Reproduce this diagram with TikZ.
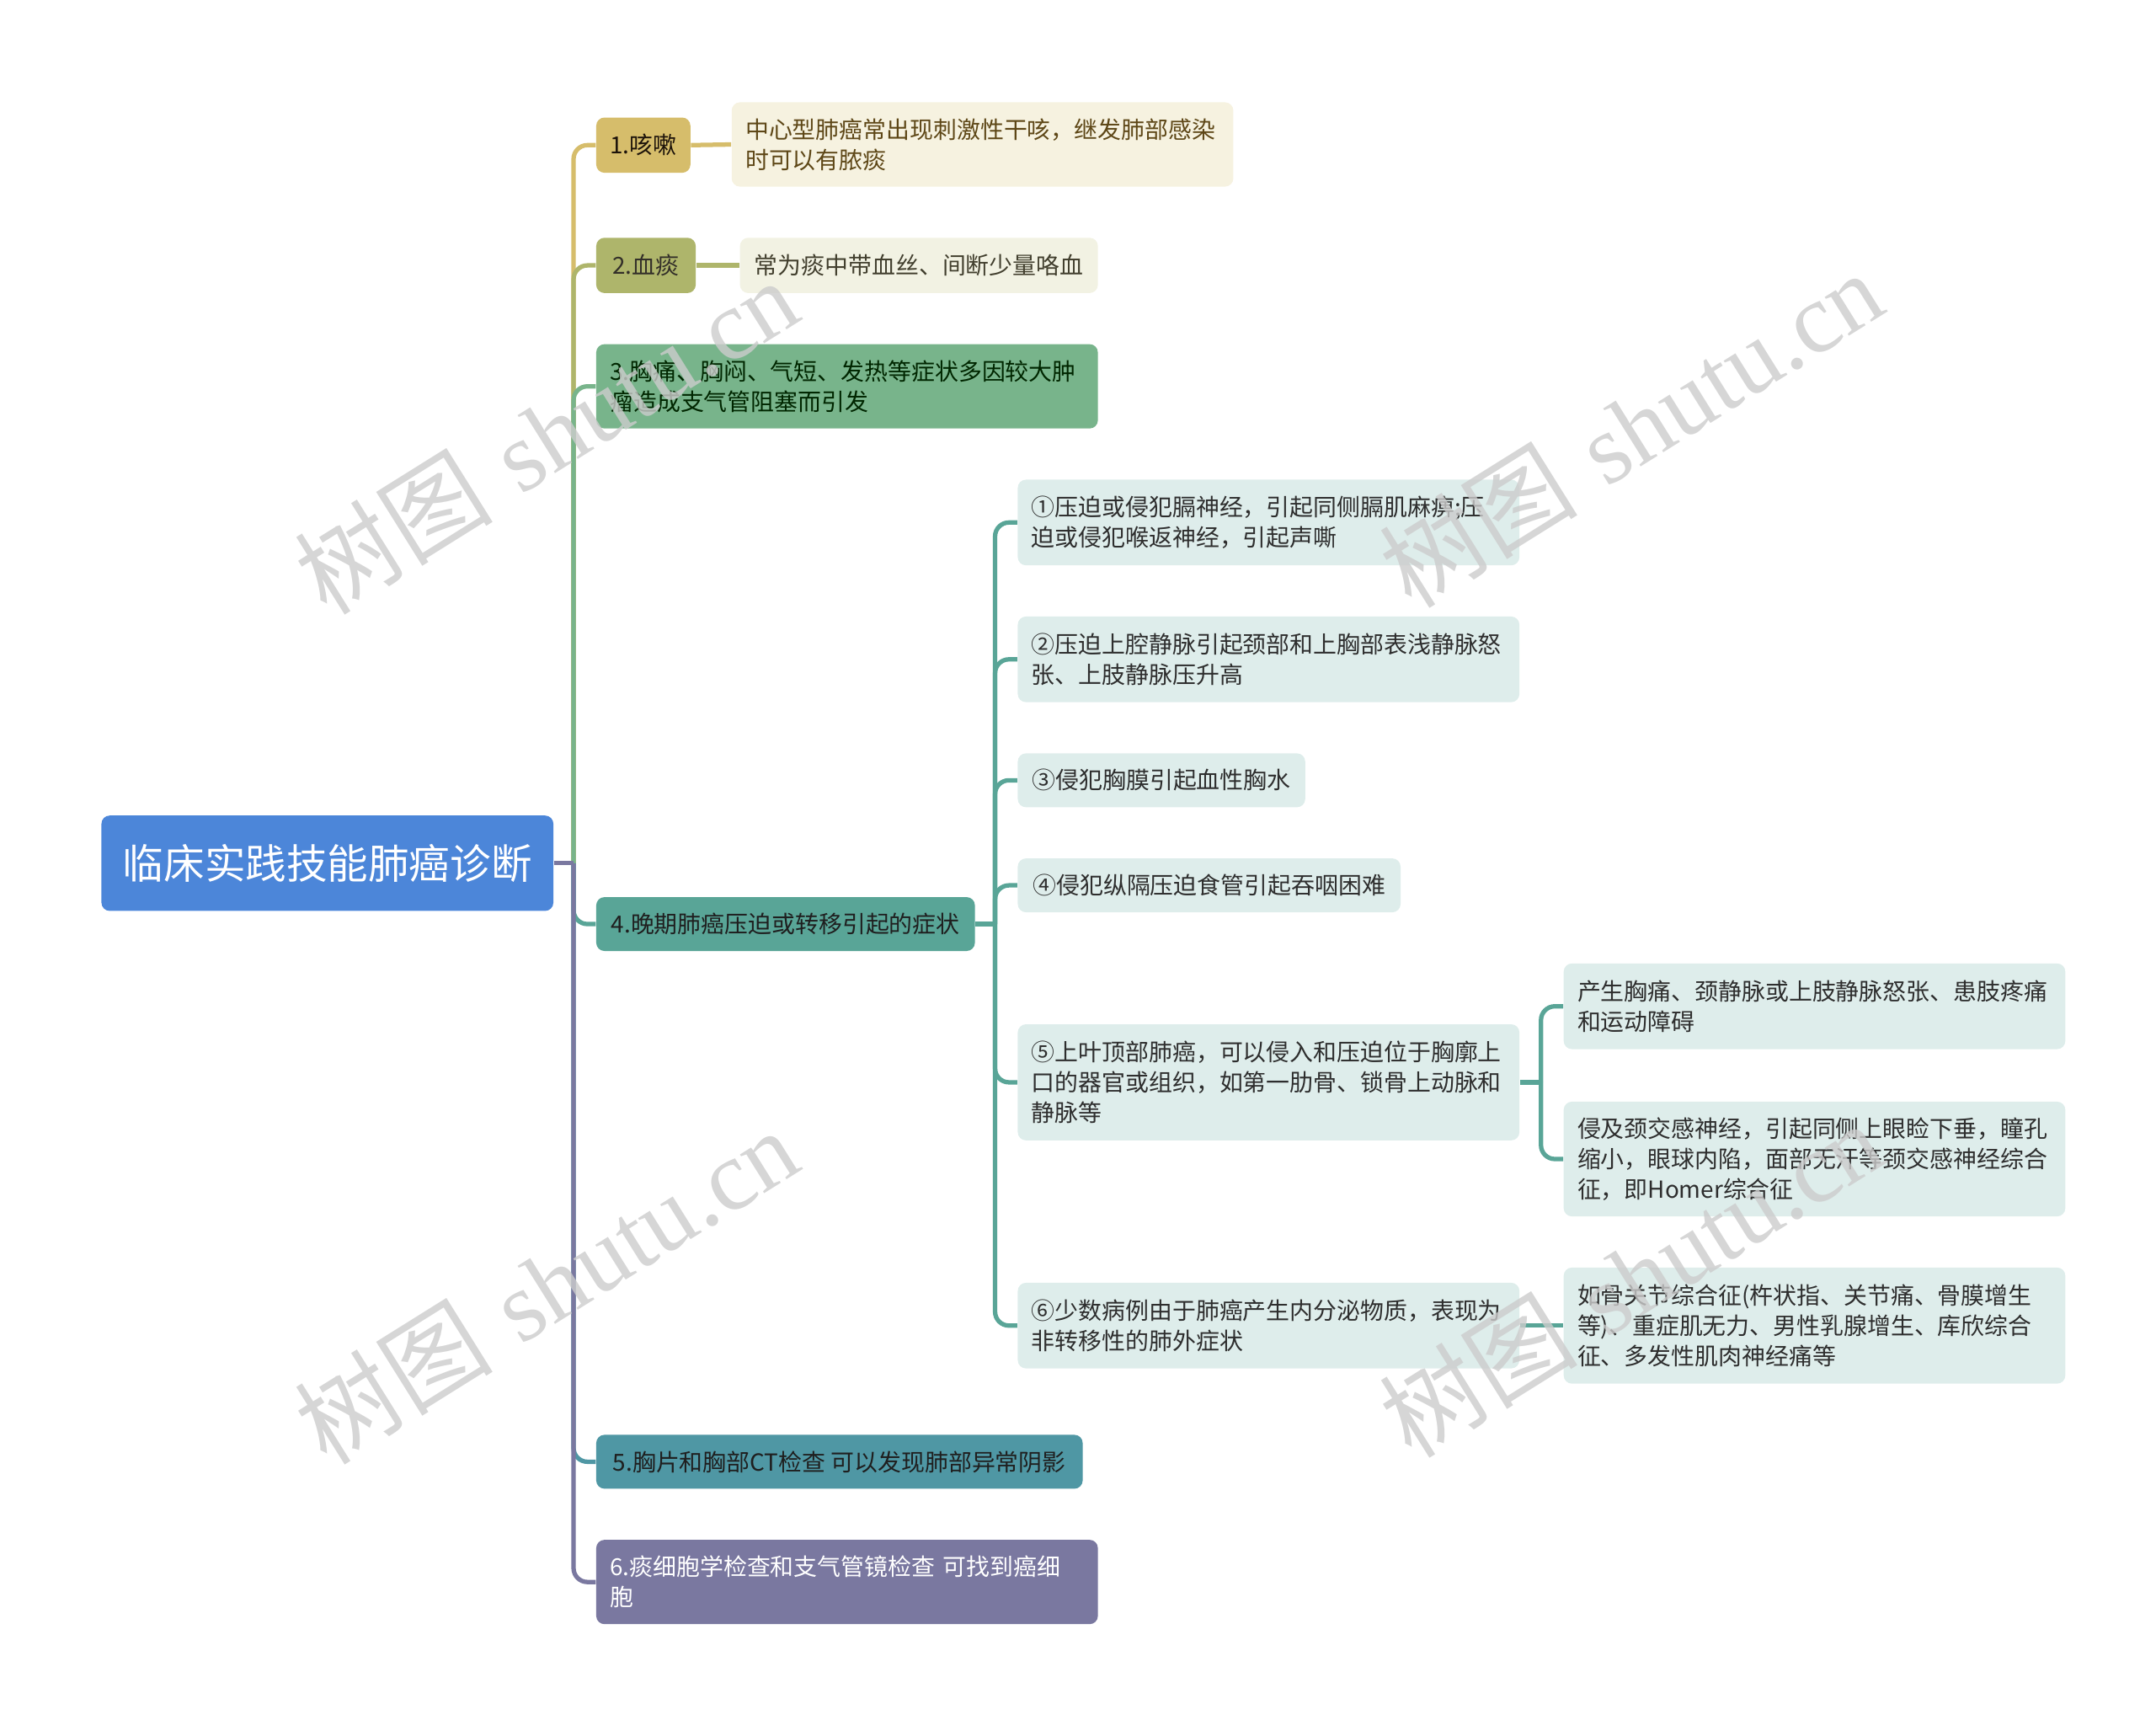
\documentclass[tikz,border=0pt]{standalone}
\usepackage{fontspec}
\newfontfamily\cjk{Noto Sans CJK SC}
\newfontfamily\wmserif{Liberation Serif}
\usepackage{xcolor}
\usepackage{tikz}
\definecolor{rootblue}{HTML}{4C86D9}
\definecolor{cougha}{HTML}{D6BD6B}
\definecolor{bloodb}{HTML}{AEB56B}
\definecolor{chestc}{HTML}{78B48B}
\definecolor{lated}{HTML}{59A597}
\definecolor{ctexe}{HTML}{4F97A4}
\definecolor{cellf}{HTML}{7A78A0}
\definecolor{leafa}{HTML}{F6F2E0}
\definecolor{leafb}{HTML}{F2F2E3}
\definecolor{leafd}{HTML}{DEEDEB}
\tikzset{
  root/.style={fill=rootblue,rounded corners=3pt,text=white,anchor=west,
    font=\cjk\fontsize{14.8}{18}\selectfont,minimum width=163.5pt,minimum height=34.5pt},
  box/.style={rounded corners=3pt,anchor=west,align=left,inner xsep=5pt,inner ysep=0pt,
    font=\cjk\fontsize{8.5}{11}\selectfont},
  wide/.style={box,text width=171.5pt},
  sub/.style={box,fill=leafd,text=black!82},
  link/.style={line width=1.6pt,rounded corners=5pt},
  wm/.style={text=black!20,opacity=0.8,rotate=32,font=\fontsize{36}{36}\selectfont}
}

\begin{document}
\begin{tikzpicture}[x=0.5pt,y=-0.5pt]
  \useasboundingbox (0,0) rectangle (1560,1244);

  \node[root] (root) at (73,624.5) {临床实践技能肺癌诊断};
  \coordinate (rj) at (415,624.5);

  % first level
  \node[box,fill=cougha,text=black!85!brown,minimum width=33.5pt,minimum height=20pt] (cough) at (431,105) {1.咳嗽};
  \node[box,fill=bloodb,text=black!85!olive,minimum width=36pt,minimum height=20pt] (blood) at (431,192) {2.血痰};
  \node[wide,fill=chestc,text=black!85!green,minimum height=30.5pt] (chest) at (431,279.5)
    {3.胸痛、胸闷、气短、发热等症状多因较大肿\\瘤造成支气管阻塞而引发};
  \node[box,fill=lated,text=black!88,minimum width=137pt,minimum height=19.5pt] (late) at (431,668.5)
    {4.晚期肺癌压迫或转移引起的症状};
  \node[box,fill=ctexe,text=black!88,minimum width=176pt,minimum height=19.5pt] (ctexam) at (431,1057.5)
    {5.胸片和胸部CT检查 可以发现肺部异常阴影};
  \node[wide,fill=cellf,text=white,minimum height=30.5pt] (cells) at (431,1144.5)
    {6.痰细胞学检查和支气管镜检查 可找到癌细\\胞};

  % leaves of 1 and 2
  \node[wide,fill=leafa,text=black!55!brown!80!olive,minimum height=30.5pt] (coughtxt) at (529,104.5)
    {中心型肺癌常出现刺激性干咳，继发肺部感染\\时可以有脓痰};
  \node[box,fill=leafb,text=black!70!olive,minimum width=129.5pt,minimum height=20pt] (bloodtxt) at (535,192)
    {常为痰中带血丝、间断少量咯血};

  % children of 4
  \node[wide,sub,minimum height=31pt] (s1) at (736,378)
    {①压迫或侵犯膈神经，引起同侧膈肌麻痹;压\\迫或侵犯喉返神经，引起声嘶};
  \node[wide,sub,minimum height=31pt] (s2) at (736,477)
    {②压迫上腔静脉引起颈部和上胸部表浅静脉怒\\张、上肢静脉压升高};
  \node[sub,minimum width=104pt,minimum height=19.5pt] (s3) at (736,564.5) {③侵犯胸膜引起血性胸水};
  \node[sub,minimum width=138.5pt,minimum height=19.5pt] (s4) at (736,640.5) {④侵犯纵隔压迫食管引起吞咽困难};
  \node[wide,sub,minimum height=42pt] (s5) at (736,783)
    {⑤上叶顶部肺癌，可以侵入和压迫位于胸廓上\\口的器官或组织，如第一肋骨、锁骨上动脉和\\静脉等};
  \node[wide,sub,minimum height=31pt] (s6) at (736,959)
    {⑥少数病例由于肺癌产生内分泌物质，表现为\\非转移性的肺外症状};
  \coordinate (lj) at (720,668.5);

  % third level
  \node[wide,sub,minimum height=31pt] (t1) at (1131,728)
    {产生胸痛、颈静脉或上肢静脉怒张、患肢疼痛\\和运动障碍};
  \node[wide,sub,minimum height=41.5pt] (t2) at (1131,838.5)
    {侵及颈交感神经，引起同侧上眼睑下垂，瞳孔\\缩小，眼球内陷，面部无汗等颈交感神经综合\\征，即Homer综合征};
  \node[wide,sub,minimum height=42pt] (t3) at (1131,959)
    {如骨关节综合征(杵状指、关节痛、骨膜增生\\等)、重症肌无力、男性乳腺增生、库欣综合\\征、多发性肌肉神经痛等};
  \coordinate (sj) at (1115,783);

  % connectors
  \draw[link,cougha] (rj) |- (cough.west);
  \draw[link,bloodb] (rj) |- (blood.west);
  \draw[link,chestc] (rj) |- (chest.west);
  \draw[link,lated] (rj) |- (late.west);
  \draw[link,ctexe] (rj) |- (ctexam.west);
  \draw[link,cellf] (rj) |- (cells.west);
  \draw[link,cellf] (root.east) -- (rj);
  \draw[link,cougha] (cough.east) -- (coughtxt.west);
  \draw[link,bloodb] (blood.east) -- (bloodtxt.west);
  \draw[link,lated] (late.east) -- (lj);
  \foreach \s in {s1,s2,s3,s4,s5,s6}
    \draw[link,lated] (lj) |- (\s.west);
  \draw[link,lated] (s5.east) -- (sj);
  \foreach \t in {t1,t2}
    \draw[link,lated] (sj) |- (\t.west);
  \draw[link,lated] (s6.east) -- (t3.west);

  % watermarks
  \foreach \wx/\wy/\wn in {395/315/wma,1180/310/wmb,395/930/wmc,1180/925/wmd}
    \node[wm] (\wn) at (\wx,\wy) {{\cjk 树图} {\wmserif shutu.cn}};
\end{tikzpicture}
\end{document}
